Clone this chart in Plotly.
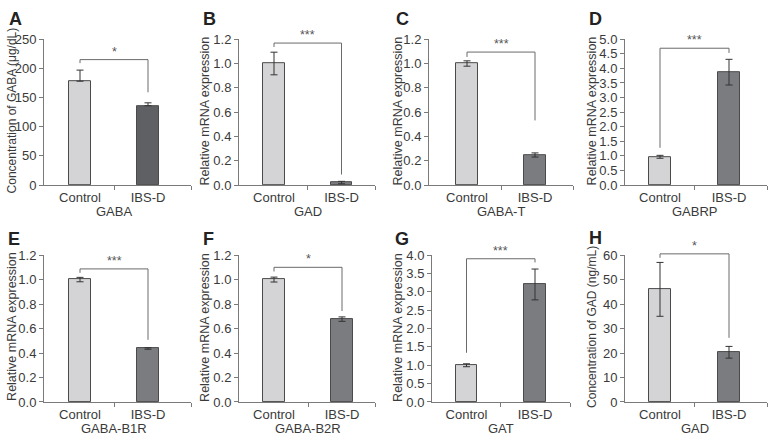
import plotly.graph_objects as go

# ---------------- data ----------------
categories = ["Control", "IBS-D"]
panel_letters = ["A", "B", "C", "D", "E", "F", "G", "H"]
gene_names = ["GABA", "GAD", "GABA-T", "GABRP", "GABA-B1R", "GABA-B2R", "GAT", "GAD"]
y_titles = ["Concentration of GABA (μg/dL)", "Relative mRNA expression", "Relative mRNA expression",
            "Relative mRNA expression", "Relative mRNA expression", "Relative mRNA expression",
            "Relative mRNA expression", "Concentration of GAD (ng/mL)"]

means_A = [178, 136];     err_A = [19, 5]
means_B = [1.00, 0.021];  err_B = [0.093, 0.01]
means_C = [1.00, 0.248];  err_C = [0.022, 0.017]
means_D = [0.97, 3.87];   err_D = [0.05, 0.44]
means_E = [1.00, 0.437];  err_E = [0.018, 0.006]
means_F = [1.00, 0.677];  err_F = [0.02, 0.018]
means_G = [1.00, 3.20];   err_G = [0.04, 0.42]
means_H = [46.0, 20.3];   err_H = [11.0, 2.4]

# significance bracket: [bar level, left end, right end]
bracket_A = [215, 209, 159]
bracket_B = [1.168, 1.136, 0.087]
bracket_C = [1.094, 1.054, 0.532]
bracket_D = [4.69, 1.28, 4.53]
bracket_E = [1.087, 1.055, 0.508]
bracket_F = [1.10, 1.066, 0.743]
bracket_G = [3.90, 1.34, 3.80]
bracket_H = [60.5, 58.9, 26.2]
significance = ["*", "***", "***", "***", "***", "*", "***", "*"]

y_max = [250, 1.2, 1.2, 5.0, 1.2, 1.2, 4.0, 60]
y_step = [50, 0.2, 0.2, 0.5, 0.2, 0.2, 0.5, 10]
y_format = ["d", ".1f", ".1f", ".1f", ".1f", ".1f", ".1f", "d"]

means = [means_A, means_B, means_C, means_D, means_E, means_F, means_G, means_H]
errs = [err_A, err_B, err_C, err_D, err_E, err_F, err_G, err_H]
brackets = [bracket_A, bracket_B, bracket_C, bracket_D, bracket_E, bracket_F, bracket_G, bracket_H]

# ---------------- layout geometry (pixels) ----------------
W, H = 770, 447
# axis left, axis right, control centre, IBS-D centre
xgeo = [(44, 191, 80, 148), (239, 375, 274, 341.5), (429, 573, 467, 535), (625, 767, 660, 729),
        (44, 191, 80, 148), (239, 375, 274, 342), (432, 570, 466.5, 535), (625, 767, 660, 729)]
ygeo = [(33.3, 184.3)] * 4 + [(256.7, 408.7)] * 4
title_x = [12, 205, 398, 592, 12, 205, 398, 592]
title_y = [107, 107, 107, 108, 331, 331, 331, 331]
title_size = [12, 12.5, 12.5, 12.5, 12.5, 12.5, 12.5, 12]
letter_pos = [(7, 12), (201, 12), (394, 12), (587, 12), (6, 240), (201, 240), (393, 240), (587, 239)]
EXTRA = 25  # px of headroom for the bracket overlay axes

FONT = "Liberation Sans, Arial, sans-serif"
TXT = "#3a3a3a"
AX = "#7a7a7a"
ctrl_fill = "#d4d4d6"
ibs_fill = ["#5f6064", "#7b7c7f", "#7b7c7f", "#7b7c7f", "#7b7c7f", "#7b7c7f", "#7b7c7f", "#7b7c7f"]

fig = go.Figure()
annotations = []
layout = {}

for i in range(8):
    n = "" if i == 0 else str(i + 1)
    xa, ya = "x" + n, "y" + n
    yb = "y" + str(i + 9)  # overlay axis for brackets (same scale, extra headroom)
    L, R, c0, c1 = xgeo[i]
    u = c1 - c0
    xl, xr = (L - c0) / u, (R - c0) / u
    top, bot = ygeo[i]

    err_minus = [0, 0] if i == 0 else errs[i]
    fig.add_trace(go.Bar(
        x=[0, 1], y=means[i], width=0.32, xaxis=xa, yaxis=ya,
        marker=dict(color=[ctrl_fill, ibs_fill[i]], line=dict(color="#4a4a4a", width=1)),
        error_y=dict(type="data", symmetric=False, array=errs[i], arrayminus=err_minus,
                     color="#333333", thickness=1, width=3.5),
        showlegend=False, hoverinfo="skip", cliponaxis=False,
    ))
    lvl, lft, rgt = brackets[i]
    fig.add_trace(go.Scatter(
        x=[0, 0, 1, 1], y=[lft, lvl, lvl, rgt], mode="lines", xaxis=xa, yaxis=yb,
        line=dict(color="#6a6a6a", width=1), showlegend=False, hoverinfo="skip", cliponaxis=False,
    ))
    annotations.append(dict(x=0.5, y=lvl, xref=xa, yref=yb, text=significance[i], showarrow=False,
                            yanchor="bottom", yshift=-1, font=dict(family=FONT, size=12.5, color="#555555")))

    layout["xaxis" + n] = dict(
        domain=[L / W, R / W], range=[xl, xr], anchor=ya,
        tickvals=[0, 1], ticktext=categories, ticks="", showgrid=False, zeroline=False,
        showline=True, linecolor=AX, linewidth=1,
        minor=dict(tickvals=[0.5, xr], ticks="outside", ticklen=4, tickcolor=AX, showgrid=False),
        tickfont=dict(family=FONT, size=13, color=TXT), fixedrange=True,
    )
    layout["yaxis" + n] = dict(
        domain=[1 - bot / H, 1 - top / H], range=[0, y_max[i]], anchor=xa,
        tick0=0, dtick=y_step[i], tickformat=y_format[i], ticks="outside", ticklen=4,
        tickcolor=AX, showline=True, linecolor=AX, linewidth=1, showgrid=False, zeroline=False,
        tickfont=dict(family=FONT, size=13, color=TXT), fixedrange=True,
    )
    span = bot - top
    layout["yaxis" + str(i + 9)] = dict(
        domain=[1 - bot / H, 1 - (top - EXTRA) / H], range=[0, y_max[i] * (span + EXTRA) / span],
        anchor=xa, visible=False, fixedrange=True,
    )
    # y-axis title
    annotations.append(dict(x=title_x[i] / W, y=1 - title_y[i] / H, xref="paper", yref="paper",
                            text=y_titles[i], textangle=-90, showarrow=False,
                            xanchor="center", yanchor="middle",
                            font=dict(family=FONT, size=title_size[i], color=TXT)))
    # gene name (x title)
    annotations.append(dict(x=((c0 + c1) / 2) / W, y=1 - (bot + 27) / H, xref="paper", yref="paper",
                            text=gene_names[i], showarrow=False, xanchor="center", yanchor="middle",
                            font=dict(family=FONT, size=13, color=TXT)))
    # panel letter
    lx, ly = letter_pos[i]
    annotations.append(dict(x=lx / W, y=1 - ly / H, xref="paper", yref="paper",
                            text="<b>" + panel_letters[i] + "</b>", showarrow=False,
                            xanchor="left", yanchor="middle",
                            font=dict(family=FONT, size=18, color="#222222")))

fig.update_layout(
    width=W, height=H, margin=dict(l=0, r=0, t=0, b=0),
    paper_bgcolor="white", plot_bgcolor="rgba(0,0,0,0)",
    annotations=annotations, bargap=0, **layout,
)
fig.write_html("out.html", config={"displayModeBar": False},
               post_script="document.body.style.margin='0';")
